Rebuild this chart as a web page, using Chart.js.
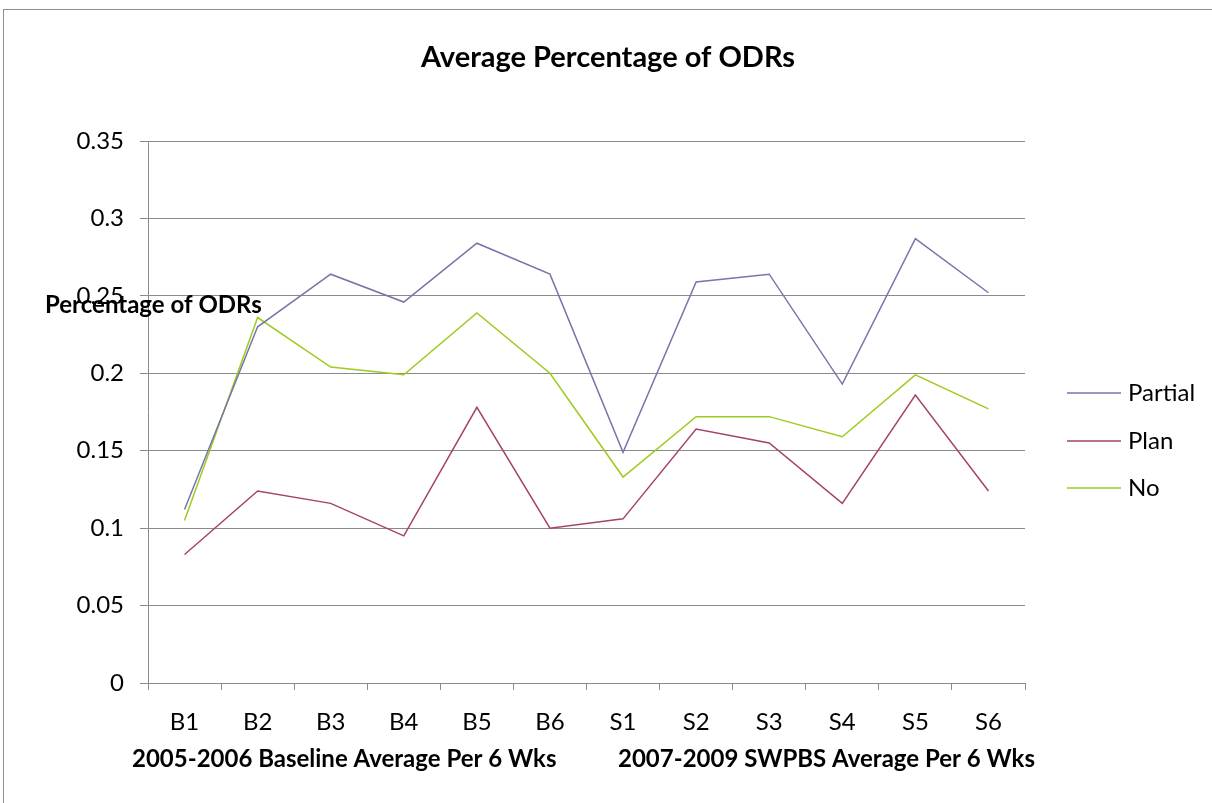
<!DOCTYPE html>
<html>
<head>
<meta charset="utf-8">
<title>Average Percentage of ODRs</title>
<script src="https://cdn.jsdelivr.net/npm/chart.js@4.4.0/dist/chart.umd.min.js"></script>
<style>
    html, body {
        margin: 0;
        padding: 0;
        background: #fff;
        overflow: hidden;
    }
    #wrap {
        position: relative;
        width: 1212px;
        height: 803px;
    }
    #frame {
        position: absolute;
        left: 3px;
        top: 9px;
        width: 1300px;
        height: 900px;
        border: 1.5px solid #8f8f8f;
        pointer-events: none;
    }
</style>
</head>
<body>
<div id="wrap">
    <canvas id="odrChart" width="1212" height="803"></canvas>
    <div id="frame"></div>
</div>
<script>
const categories = ["B1", "B2", "B3", "B4", "B5", "B6", "S1", "S2", "S3", "S4", "S5", "S6"];

const partial = [0.112, 0.230, 0.264, 0.246, 0.284, 0.264, 0.149, 0.259, 0.264, 0.193, 0.287, 0.252];
const plan = [0.083, 0.124, 0.116, 0.095, 0.178, 0.100, 0.106, 0.164, 0.155, 0.116, 0.186, 0.124];
const no = [0.105, 0.236, 0.204, 0.199, 0.239, 0.200, 0.133, 0.172, 0.172, 0.159, 0.199, 0.177];

const yTickLabels = ["0", "0.05", "0.1", "0.15", "0.2", "0.25", "0.3", "0.35"];

const xTitleParts = ["2005-2006 Baseline Average Per 6 Wks", "2007-2009 SWPBS Average Per 6 Wks"];

const FONT = "Lato, 'Open Sans', sans-serif";
Chart.defaults.color = "#000";
Chart.defaults.font.family = FONT;

// chart title, axis titles and the line legend on the right, placed like Excel does
const extras = {
    id: "extras",
    afterDraw(chart) {
        const c = chart.ctx;
        c.save();
        c.fillStyle = "#000";
        c.textBaseline = "middle";

        c.font = "bold 29px " + FONT;
        c.textAlign = "center";
        c.fillText("Average Percentage of ODRs", 608, 58);

        c.font = "bold 24px " + FONT;
        c.textAlign = "left";
        c.fillText("Percentage of ODRs", 45, 305);

        // x-axis title, two halves as in the original
        c.fillText(xTitleParts[0], 132, 759);
        c.textAlign = "right";
        c.fillText(xTitleParts[1], 1035, 759);
        c.textAlign = "left";

        const rows = [393, 441, 488];
        chart.data.datasets.forEach((ds, i) => {
            c.strokeStyle = ds.borderColor;
            c.lineWidth = 1.5;
            c.beginPath();
            c.moveTo(1067, rows[i]);
            c.lineTo(1121, rows[i]);
            c.stroke();
            c.font = "24px " + FONT;
            c.fillText(ds.label, 1128, rows[i]);
        });
        c.restore();
    }
};

const ctx = document.getElementById("odrChart").getContext("2d");

new Chart(ctx, {
    type: "line",
    data: {
        labels: categories,
        datasets: [
            {
                label: "Partial",
                data: partial,
                borderColor: "#7676aa",
            },
            {
                label: "Plan",
                data: plan,
                borderColor: "#a4436e",
            },
            {
                label: "No",
                data: no,
                borderColor: "#9dcb1f",
            },
        ],
    },
    options: {
        responsive: false,
        animation: false,
        elements: {
            line: { borderWidth: 1.5, tension: 0 },
            point: { radius: 0 },
        },
        layout: {
            padding: { left: 0, right: 187, top: 141, bottom: 0 },
        },
        scales: {
            x: {
                offset: true,
                grid: {
                    offset: true,
                    drawOnChartArea: false,
                    drawTicks: true,
                    tickLength: 7,
                    color: "#8a8a8a",
                },
                border: { display: true, color: "#8a8a8a" },
                ticks: {
                    padding: 18,
                    font: { size: 24 },
                },
                title: { display: false },
                afterFit: function (scale) {
                    scale.height = 120;
                },
            },
            y: {
                min: 0,
                max: 0.35,
                ticks: {
                    stepSize: 0.05,
                    padding: 16,
                    font: { size: 24 },
                    callback: function (value) {
                        return yTickLabels[Math.round(value / 0.05)];
                    },
                },
                grid: {
                    color: "#8a8a8a",
                    tickLength: 8,
                },
                border: { display: true, color: "#8a8a8a" },
                afterFit: function (scale) {
                    scale.width = 148;
                },
            },
        },
        plugins: {
            legend: {
                display: false,
            },
            tooltip: { enabled: false },
            title: { display: false },
        },
    },
    plugins: [extras],
});
</script>
</body>
</html>
